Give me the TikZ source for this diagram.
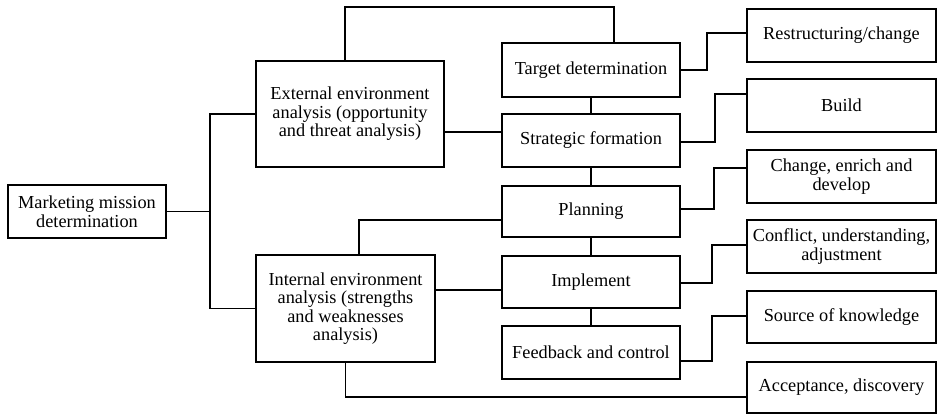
\documentclass[tikz,border=0pt]{standalone}
\usepackage{fontspec}
\setmainfont{Liberation Serif}
\begin{document}
\begin{tikzpicture}[x=1pt,y=-1pt,
  box/.style={draw, line width=1.6pt, align=center, inner sep=0pt,
    font=\fontsize{18.3}{18.5}\selectfont},
  conn/.style={line width=1.6pt}]
\useasboundingbox (0,0) rectangle (938,414);
% left
\node[box, minimum width=158pt, minimum height=53pt] (mkt) at (87,211.5) {Marketing mission\\determination};
\node[box, minimum width=188pt, minimum height=106pt] (ext) at (350,114) {External environment\\analysis (opportunity\\and threat analysis)};
\node[box, minimum width=179pt, minimum height=107pt] (int) at (345.5,308.5) {Internal environment\\analysis (strengths\\and weaknesses\\analysis)};
% middle
\node[box, minimum width=178pt, minimum height=54pt] (target) at (591,70) {Target determination};
\node[box, minimum width=178pt, minimum height=53pt] (strat) at (591,140.5) {Strategic formation};
\node[box, minimum width=178pt, minimum height=51pt] (plan) at (591,211.5) {Planning};
\node[box, minimum width=178pt, minimum height=52pt] (impl) at (591,282) {Implement};
\node[box, minimum width=178pt, minimum height=53pt] (feed) at (591,352.5) {Feedback and control};
% right
\node[box, minimum width=189pt, minimum height=53pt] (restr) at (841.5,35.5) {Restructuring/change};
\node[box, minimum width=189pt, minimum height=53pt] (build) at (841.5,105.5) {Build};
\node[box, minimum width=189pt, minimum height=53pt] (change) at (841.5,176.5) {Change, enrich and\\develop};
\node[box, minimum width=189pt, minimum height=53pt] (conflict) at (841.5,246.5) {Conflict, understanding,\\adjustment};
\node[box, minimum width=189pt, minimum height=52pt] (source) at (841.5,317) {Source of knowledge};
\node[box, minimum width=189pt, minimum height=51pt] (accept) at (841.5,387.5) {Acceptance, discovery};
% connectors left
\draw[conn] (ext.west) -- ++(-45,0) |- (mkt.east);
\draw[conn] (int.west) -- ++(-45,0) |- (mkt.east);
\draw[conn] ([xshift=-5pt]ext.north) -- ++(0,-53) -| ([xshift=23pt]target.north);
\draw[conn] ([yshift=-18pt]ext.east) -- ([yshift=-18pt]ext.east -| strat.west);
\draw[conn] ([xshift=13.5pt]int.north) |- ([yshift=-8.5pt]plan.west);
\draw[conn] ([yshift=18.5pt]int.east) -- ([yshift=18.5pt]int.east -| impl.west);
\draw[conn] (int.south) |- ([yshift=-9.5pt]accept.west);
% middle chain
\draw[conn] (target.south) -- (strat.north);
\draw[conn] (strat.south) -- (plan.north);
\draw[conn] (plan.south) -- (impl.north);
\draw[conn] (impl.south) -- (feed.north);
% right connectors
\draw[conn] (target.east) -- ++(26,0) |- ([yshift=2.5pt]restr.west);
\draw[conn] ([yshift=-1.5pt]strat.east) -- ++(34,0) |- ([yshift=11.5pt]build.west);
\draw[conn] ([yshift=2.5pt]plan.east) -- ++(33,0) |- ([yshift=8.5pt]change.west);
\draw[conn] ([yshift=-1pt]impl.east) -- ++(31,0) |- ([yshift=1.5pt]conflict.west);
\draw[conn] ([yshift=-8.5pt]feed.east) -- ++(31,0) |- ([yshift=1pt]source.west);
\end{tikzpicture}
\end{document}
